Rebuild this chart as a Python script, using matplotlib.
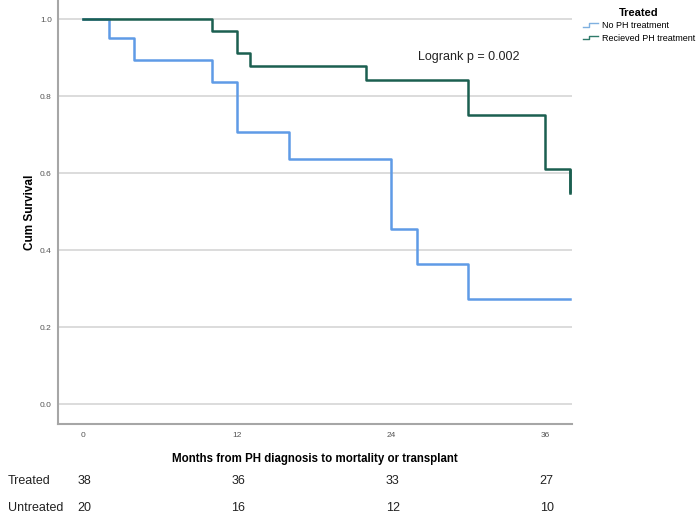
"""
Kaplan-Meier style survival chart: treated vs untreated PH
"""

import matplotlib
matplotlib.use('Agg')
import matplotlib.pyplot as plt
import matplotlib.transforms as mtransforms
from matplotlib.legend_handler import HandlerBase
from matplotlib.lines import Line2D

plt.rcParams['font.family'] = ['Liberation Sans', 'DejaVu Sans']
NARROW = ['Liberation Sans Narrow', 'Liberation Sans', 'DejaVu Sans']

# survival steps (month, cum survival after that month)
treated_months = [0, 10, 12, 13, 22, 30, 36, 37.9]
treated_surv = [1.0, 0.970, 0.912, 0.879, 0.842, 0.751, 0.611, 0.549]
untreated_months = [0, 2, 4, 10, 12, 16, 24, 26, 30, 37.9]
untreated_surv = [1.0, 0.951, 0.894, 0.837, 0.707, 0.637, 0.455, 0.364, 0.274, 0.274]

x_ticks = [0, 12, 24, 36]
y_ticks = [0.0, 0.2, 0.4, 0.6, 0.8, 1.0]
risk_labels = ['Treated', 'Untreated']
risk_treated = [38, 36, 33, 27]
risk_untreated = [20, 16, 12, 10]

legend_labels = ['No PH treatment', 'Recieved PH treatment']
blue = '#5f9be6'
green = '#1b5f50'
icon_colors = ['#7fb0e0', '#2f7a6a']


class StepHandler(HandlerBase):
    """Small step-shaped legend icon"""
    def create_artists(self, legend, orig_handle, xdescent, ydescent,
                       width, height, fontsize, trans):
        w, h = width, height
        xs = [0, w * 0.45, w * 0.45, w]
        ys = [h * 0.2, h * 0.2, h * 0.8, h * 0.8]
        line = Line2D([x - xdescent for x in xs], [y - ydescent for y in ys],
                      color=orig_handle.get_color(), lw=1.0, transform=trans)
        return [line]


fig = plt.figure(figsize=(7.0, 5.16), dpi=100)
ax = fig.add_axes([0.0829, 0.1783, 0.734, 0.8217])

# steps
ax.step(untreated_months, untreated_surv, where='post', color=blue, lw=1.8)
ax.step(treated_months, treated_surv, where='post', color=green, lw=1.8)
ax.vlines(treated_months[-1], treated_surv[-2], treated_surv[-1], color=green, lw=1.8)

ax.set_xlim(-1.95, 38.05)
ax.set_ylim(-0.051, 1.05)
ax.set_xticks(x_ticks)
ax.set_yticks(y_ticks)
ax.set_yticklabels([f'{v:.1f}' for v in y_ticks])
ax.tick_params(length=0, labelsize=6, colors='#555555', pad=6)
ax.tick_params(axis='y', pad=4.5)
ax.grid(axis='y', color='#d6d6d6', lw=1.2)
ax.set_axisbelow(True)
for s in ['top', 'right']:
    ax.spines[s].set_visible(False)
for s in ['left', 'bottom']:
    ax.spines[s].set_color('#a6a6a6')
    ax.spines[s].set_linewidth(1.5)

ax.set_ylabel('Cum Survival', fontsize=8.5, fontweight='bold', labelpad=3,
              family=NARROW)
ax.set_xlabel('Months from PH diagnosis to mortality or transplant',
              fontsize=8.3, fontweight='bold', labelpad=9.5, family=NARROW)

ax.text(0.80, 0.865, 'Logrank p = 0.002', transform=ax.transAxes,
        fontsize=9, ha='center', va='center', color='#222222')

handles = [Line2D([], [], color=c) for c in icon_colors]
leg = fig.legend(handles, legend_labels, handler_map={Line2D: StepHandler()},
                 loc='upper left', bbox_to_anchor=(578 / 700, 1 - 3 / 516),
                 frameon=False, fontsize=6.5, handlelength=1.7,
                 handletextpad=0.5, labelspacing=0.4, borderpad=0,
                 title='Treated')
leg.get_title().set_fontweight('bold')
leg.get_title().set_fontsize(8)
leg._legend_box.align = 'center'

# numbers at risk table (x in data units, y in figure fraction)
trans = mtransforms.blended_transform_factory(ax.transData, fig.transFigure)
risk_rows = [risk_treated, risk_untreated]
for row, (lab, vals) in enumerate(zip(risk_labels, risk_rows)):
    y = 1 - (481 + row * 27) / 516
    ax.text(-5.85, y, lab, fontsize=9, ha='left', va='center',
            color='#222222', transform=trans, clip_on=False, family=NARROW)
    for xt, v in zip(x_ticks, vals):
        ax.text(xt + 0.1, y, str(v), fontsize=9, ha='center', va='center',
                color='#222222', transform=trans, clip_on=False, family=NARROW)

fig.savefig('out.png', dpi=100)
